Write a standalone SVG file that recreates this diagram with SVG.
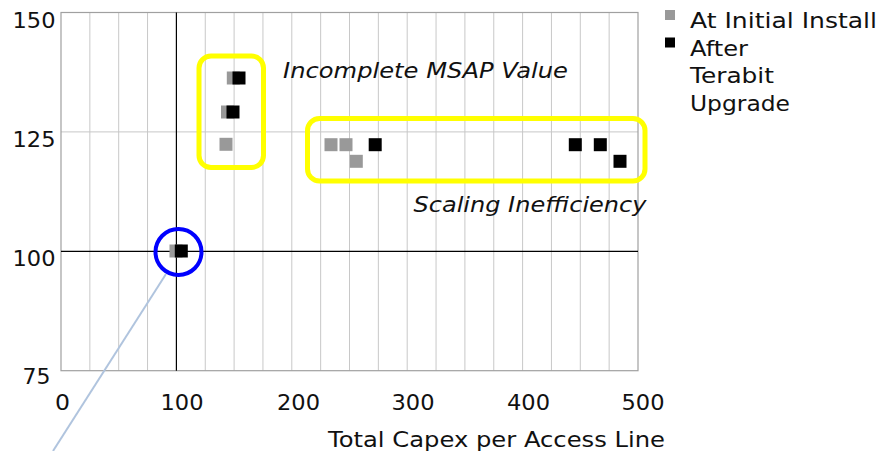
<svg xmlns="http://www.w3.org/2000/svg" width="892" height="451" viewBox="0 0 892 451">
<style>
.grid{stroke:#c8c8c8;stroke-width:1;fill:none}
.border{stroke:#a0a0a0;stroke-width:1.2;fill:none}
.axis{stroke:#000;stroke-width:1.2;fill:none}
.lbl{font-family:"DejaVu Sans",Verdana,sans-serif;font-size:21px;fill:#111}
.it{font-family:"DejaVu Sans",Verdana,sans-serif;font-size:20.5px;font-style:italic;fill:#111}
.g{fill:#999999}
.b{fill:#000}
.hl{fill:none;stroke:#ffff00;stroke-width:5}
</style>
<rect width="892" height="451" fill="#fff"/>
<g id="grid">
<path class="grid" d="M89.85 12.5V370.7M118.7 12.5V370.7M147.55 12.5V370.7M205.25 12.5V370.7M234.1 12.5V370.7M262.95 12.5V370.7M291.8 12.5V370.7M320.65 12.5V370.7M349.5 12.5V370.7M378.35 12.5V370.7M407.2 12.5V370.7M436.05 12.5V370.7M464.9 12.5V370.7M493.75 12.5V370.7M522.6 12.5V370.7M551.45 12.5V370.7M580.3 12.5V370.7M609.15 12.5V370.7M61 131.9H638"/>
<rect class="border" x="61" y="12.5" width="577" height="358.2"/>
<path class="axis" d="M176.4 12.5V370.7M61 251.3H638"/>
</g>
<g id="y-labels" class="lbl">
<text x="12.5" y="27.5" textLength="43" lengthAdjust="spacingAndGlyphs">150</text>
<text x="12.5" y="146.7" textLength="43" lengthAdjust="spacingAndGlyphs">125</text>
<text x="12.5" y="265.5" textLength="43" lengthAdjust="spacingAndGlyphs">100</text>
<text x="22.5" y="383.5" textLength="28" lengthAdjust="spacingAndGlyphs">75</text>
</g>
<g id="x-labels" class="lbl">
<text x="55" y="410" textLength="15" lengthAdjust="spacingAndGlyphs">0</text>
<text x="160.5" y="410" textLength="43" lengthAdjust="spacingAndGlyphs">100</text>
<text x="277" y="410" textLength="43" lengthAdjust="spacingAndGlyphs">200</text>
<text x="391.5" y="410" textLength="43" lengthAdjust="spacingAndGlyphs">300</text>
<text x="507" y="410" textLength="43" lengthAdjust="spacingAndGlyphs">400</text>
<text x="621.5" y="410" textLength="43" lengthAdjust="spacingAndGlyphs">500</text>
</g>
<text id="x-title" class="lbl" x="328" y="446.5" textLength="337" lengthAdjust="spacingAndGlyphs">Total Capex per Access Line</text>
<g id="legend">
<rect class="g" x="665" y="10" width="10" height="10"/>
<rect class="b" x="665" y="37.5" width="10" height="10"/>
<text class="lbl" x="690" y="28.3" textLength="187" lengthAdjust="spacingAndGlyphs">At Initial Install</text>
<text class="lbl" x="690" y="55.5" textLength="58" lengthAdjust="spacingAndGlyphs">After</text>
<text class="lbl" x="690" y="83.3" textLength="84" lengthAdjust="spacingAndGlyphs">Terabit</text>
<text class="lbl" x="690" y="111.3" textLength="100" lengthAdjust="spacingAndGlyphs">Upgrade</text>
</g>
<g id="series-initial">
<rect class="g" x="226.8" y="71.5" width="13" height="13"/>
<rect class="g" x="221" y="105.5" width="13" height="13"/>
<rect class="g" x="219.5" y="137.8" width="13" height="13"/>
<rect class="g" x="324.5" y="138.2" width="13" height="13"/>
<rect class="g" x="339.5" y="138.2" width="13" height="13"/>
<rect class="g" x="349.8" y="154.8" width="13" height="13"/>
<rect class="g" x="169.5" y="244.5" width="13" height="13"/>
</g>
<g id="series-upgrade">
<rect class="b" x="232.5" y="71.5" width="13" height="13"/>
<rect class="b" x="226.5" y="105.5" width="13" height="13"/>
<rect class="b" x="368.7" y="138.2" width="13" height="13"/>
<rect class="b" x="568.8" y="138.2" width="13" height="13"/>
<rect class="b" x="593.8" y="138.2" width="13" height="13"/>
<rect class="b" x="613.5" y="154.8" width="13" height="13"/>
<rect class="b" x="174.8" y="244.5" width="13" height="13"/>
</g>
<g id="incomplete-msap">
<rect class="hl" x="199" y="56" width="64.5" height="111.5" rx="12"/>
<text class="it" x="283" y="77.7" textLength="285" lengthAdjust="spacingAndGlyphs">Incomplete MSAP Value</text>
</g>
<g id="scaling-inefficiency">
<rect class="hl" x="307.5" y="118.5" width="337.5" height="62.5" rx="12"/>
<text class="it" x="413.5" y="211.7" textLength="233" lengthAdjust="spacingAndGlyphs">Scaling Inefficiency</text>
</g>
<g id="baseline-circle">
<circle cx="178.5" cy="252" r="23" fill="none" stroke="#0000ff" stroke-width="4"/>
</g>
<g id="connectors">
<path d="M166 274L53 451" stroke="#b0c4de" stroke-width="2" fill="none"/>
</g>
</svg>
